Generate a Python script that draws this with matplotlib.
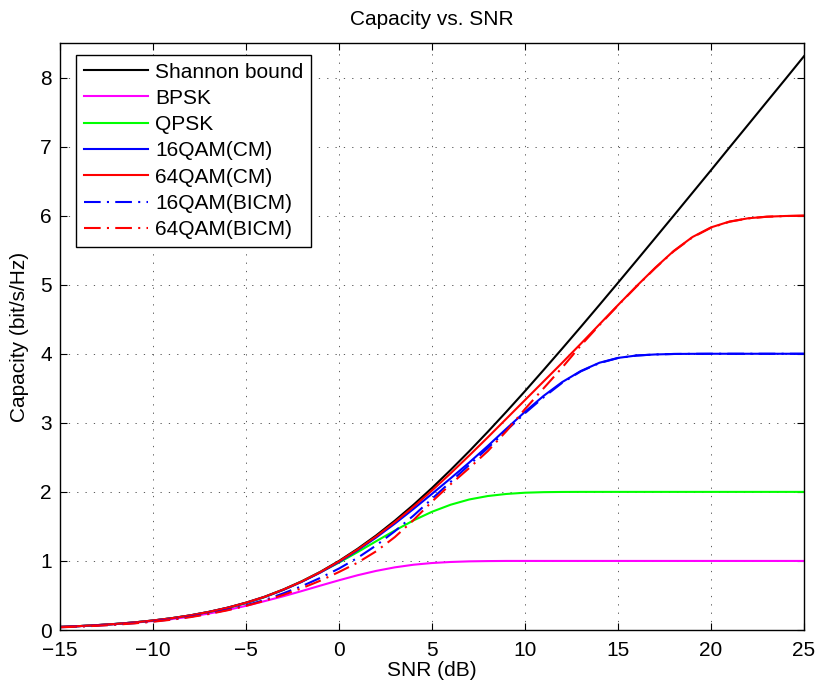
"""Capacity vs. SNR for several modulations (CM and BICM)."""

import matplotlib
matplotlib.use("Agg")
import matplotlib.pyplot as plt

# SNR grid in dB (1 dB steps)
snr_db = list(range(-15, 26))

shannon = [
    0.045, 0.056, 0.071, 0.088, 0.110, 0.138, 0.171, 0.212, 0.263, 0.323,
    0.396, 0.482, 0.586, 0.706, 0.843, 1.000, 1.176, 1.370, 1.583, 1.812,
    2.057, 2.317, 2.588, 2.870, 3.161, 3.459, 3.765, 4.075, 4.389, 4.707,
    5.028, 5.351, 5.676, 6.002, 6.330, 6.658, 6.989, 7.318, 7.648, 7.977, 8.309,
]
bpsk = [
    0.044, 0.055, 0.069, 0.086, 0.106, 0.130, 0.158, 0.194, 0.238, 0.290,
    0.350, 0.418, 0.488, 0.564, 0.643, 0.720, 0.793, 0.856, 0.907, 0.945,
    0.970, 0.985, 0.994, 0.998, 1.000, 1.000, 1.000, 1.000, 1.000, 1.000,
    1.000, 1.000, 1.000, 1.000, 1.000, 1.000, 1.000, 1.000, 1.000, 1.000, 1.000,
]
qpsk = [
    0.045, 0.056, 0.070, 0.088, 0.110, 0.136, 0.170, 0.210, 0.260, 0.316,
    0.388, 0.476, 0.580, 0.700, 0.836, 0.976, 1.128, 1.286, 1.440, 1.586,
    1.712, 1.814, 1.890, 1.940, 1.970, 1.988, 1.996, 1.999, 2.000, 2.000,
    2.000, 2.000, 2.000, 2.000, 2.000, 2.000, 2.000, 2.000, 2.000, 2.000, 2.000,
]
qam16_cm = [
    0.045, 0.056, 0.070, 0.088, 0.110, 0.137, 0.170, 0.211, 0.261, 0.321,
    0.393, 0.478, 0.580, 0.698, 0.832, 0.984, 1.154, 1.340, 1.540, 1.752,
    1.972, 2.196, 2.425, 2.665, 2.915, 3.160, 3.390, 3.590, 3.750, 3.870,
    3.940, 3.975, 3.990, 3.997, 3.999, 4.000, 4.000, 4.000, 4.000, 4.000, 4.000,
]
qam64_cm = [
    0.045, 0.056, 0.071, 0.088, 0.110, 0.138, 0.171, 0.212, 0.262, 0.322,
    0.395, 0.480, 0.584, 0.703, 0.839, 0.994, 1.166, 1.356, 1.562, 1.784,
    2.020, 2.268, 2.526, 2.790, 3.060, 3.330, 3.600, 3.870, 4.145, 4.425,
    4.705, 4.980, 5.245, 5.490, 5.690, 5.830, 5.915, 5.962, 5.985, 5.995, 6.000,
]
qam16_bicm = [
    0.040, 0.050, 0.063, 0.079, 0.099, 0.124, 0.154, 0.192, 0.238, 0.293,
    0.358, 0.434, 0.530, 0.635, 0.755, 0.890, 1.045, 1.225, 1.430, 1.655,
    1.900, 2.145, 2.390, 2.635, 2.890, 3.140, 3.370, 3.580, 3.745, 3.865,
    3.938, 3.974, 3.990, 3.997, 3.999, 4.000, 4.000, 4.000, 4.000, 4.000, 4.000,
]
qam64_bicm = [
    0.039, 0.049, 0.061, 0.077, 0.096, 0.120, 0.149, 0.186, 0.231, 0.285,
    0.349, 0.423, 0.508, 0.605, 0.715, 0.840, 0.975, 1.140, 1.345, 1.590,
    1.860, 2.110, 2.345, 2.590, 2.880, 3.200, 3.500, 3.800, 4.120, 4.415,
    4.700, 4.975, 5.240, 5.485, 5.685, 5.825, 5.912, 5.960, 5.984, 5.994, 6.000,
]

labels = [
    "Shannon bound", "BPSK", "QPSK", "16QAM(CM)", "64QAM(CM)",
    "16QAM(BICM)", "64QAM(BICM)",
]
x_ticks = [-15, -10, -5, 0, 5, 10, 15, 20, 25]
y_ticks = [0, 1, 2, 3, 4, 5, 6, 7, 8]

DASHDOT = (0, (8, 3, 1, 3))
FONT = 15


def main() -> None:
    plt.rcParams["font.family"] = ["Liberation Sans", "DejaVu Sans"]
    plt.rcParams["axes.unicode_minus"] = True

    fig = plt.figure(figsize=(8.18, 6.87), dpi=100)
    ax = fig.add_axes([60 / 818, 57 / 687, 744 / 818, 587 / 687])

    series = [
        (shannon, "k", "-"),
        (bpsk, "#ff00ff", "-"),
        (qpsk, "#00ff00", "-"),
        (qam16_cm, "#0000ff", "-"),
        (qam64_cm, "#ff0000", "-"),
        (qam16_bicm, "#0000ff", DASHDOT),
        (qam64_bicm, "#ff0000", DASHDOT),
    ]
    for (values, color, style), label in zip(series, labels):
        ax.plot(snr_db, values, color=color, linestyle=style, lw=1.5, label=label)

    ax.set_xlim(-15, 25)
    ax.set_ylim(0, 8.5)
    ax.set_xticks(x_ticks)
    ax.set_yticks(y_ticks)
    ax.tick_params(direction="in", top=True, right=True, length=5, width=0.8,
                   labelsize=FONT)
    ax.tick_params(axis="x", pad=8)
    ax.tick_params(axis="y", pad=6)
    for spine in ax.spines.values():
        spine.set_linewidth(1.0)
    ax.grid(True, color="0.25", linestyle=(0, (1.5, 8.5)), linewidth=0.6)

    ax.set_title("Capacity vs. SNR", fontsize=FONT, pad=13)
    ax.set_xlabel("SNR (dB)", fontsize=FONT, labelpad=1)
    ax.set_ylabel("Capacity (bit/s/Hz)", fontsize=FONT, labelpad=8)

    leg = ax.legend(loc="upper left", bbox_to_anchor=(16 / 744, 1 - 12 / 587),
                    borderaxespad=0, fontsize=FONT, frameon=True, fancybox=False,
                    handlelength=3.1, handletextpad=0.35, labelspacing=0.35,
                    borderpad=0.36)
    frame = leg.get_frame()
    frame.set_edgecolor("k")
    frame.set_linewidth(1.0)
    frame.set_alpha(1.0)

    fig.savefig("out.png", dpi=100)
    plt.close(fig)


if __name__ == "__main__":
    main()
